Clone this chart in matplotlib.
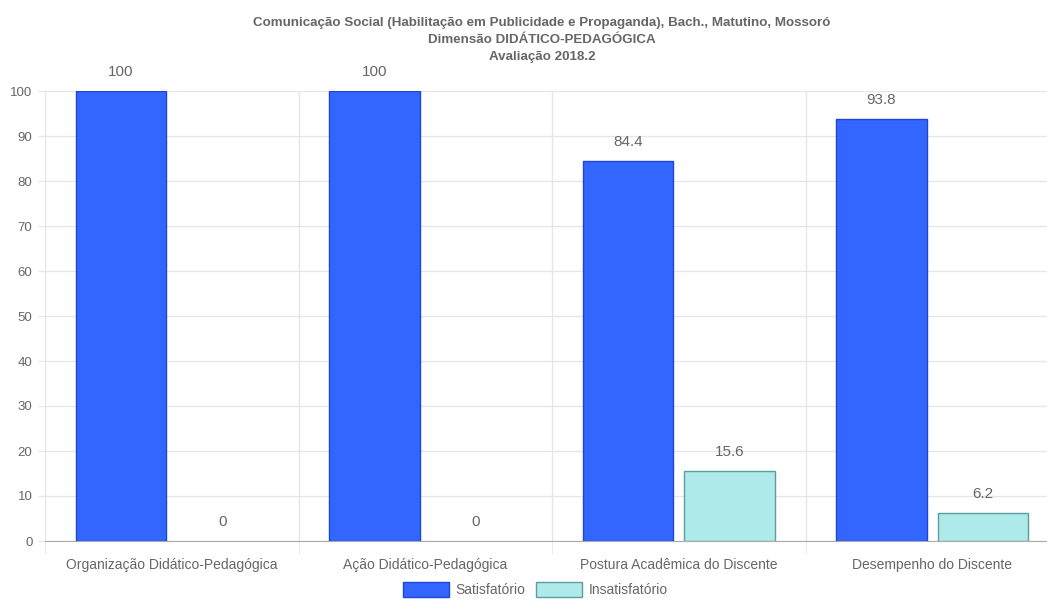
import numpy as np
import matplotlib.pyplot as plt
from matplotlib.patches import Patch

categories = ['Organização Didático-Pedagógica', 'Ação Didático-Pedagógica',
              'Postura Acadêmica do Discente', 'Desempenho do Discente']
satisfatorio = [100, 100, 84.4, 93.8]
insatisfatorio = [0, 0, 15.6, 6.2]
series_labels = ['Satisfatório', 'Insatisfatório']
title = ('Comunicação Social (Habilitação em Publicidade e Propaganda), Bach., Matutino, Mossoró\n'
         'Dimensão DIDÁTICO-PEDAGÓGICA\nAvaliação 2018.2')

plt.rcParams['font.family'] = ['Liberation Sans', 'DejaVu Sans']
txt = '#666666'
grid = '#e6e6e6'
colors = ['#3366ff', '#aeeaea']
edges = ['#1f45d6', '#5c9e9e']

fig = plt.figure(figsize=(10.47, 5.99), dpi=100)
ax = fig.add_axes([45 / 1047, 58 / 599, 1014 / 1047, 450 / 599])

x = np.arange(len(categories))
w = 0.356
off = 0.2
for i, vals in enumerate((satisfatorio, insatisfatorio)):
    lw = [1 if v > 0 else 0 for v in vals]
    bars = ax.bar(x + (2 * i - 1) * off, vals, w, color=colors[i], edgecolor=edges[i],
                  linewidth=lw, zorder=3)
    for r, v in zip(bars, vals):
        ax.annotate(f'{v:g}', (r.get_x() + r.get_width() / 2, v), xytext=(0, 13.5),
                    textcoords='offset points', ha='center', va='center',
                    fontsize=11, color=txt, annotation_clip=False)

ax.set_xlim(-0.5, len(categories) - 0.5)
ax.set_ylim(0, 100)
ax.set_yticks(np.arange(0, 101, 10))
ax.set_xticks(x)
ax.set_xticklabels(categories)
ax.set_xticks(np.arange(-0.5, len(categories), 1), minor=True)
ax.tick_params(axis='x', which='major', length=0, pad=12, labelsize=10, labelcolor=txt)
ax.tick_params(axis='x', which='minor', length=9, color=grid)
ax.tick_params(axis='y', length=5, color=grid, pad=4, labelsize=9.5, labelcolor=txt)
ax.grid(axis='y', color=grid, linewidth=1, zorder=0)
ax.grid(axis='x', which='minor', color=grid, linewidth=1, zorder=0)
for s in ('top', 'right'):
    ax.spines[s].set_visible(False)
ax.spines['left'].set_color(grid)
ax.spines['bottom'].set_color('#aaaaaa')

fig.suptitle(title, x=0.5175, y=0.972, fontsize=9.6, fontweight='bold', color=txt,
             linespacing=1.55)
handles = [Patch(facecolor=colors[i], edgecolor=edges[i], linewidth=1, label=series_labels[i])
           for i in range(2)]
fig.legend(handles=handles, loc='lower center', bbox_to_anchor=(0.5115, -0.018), ncol=2,
           frameon=False, fontsize=10, labelcolor=txt, handlelength=3.3, handleheight=1.2,
           handletextpad=0.5, columnspacing=0.8)

fig.savefig('out.png', dpi=100)
